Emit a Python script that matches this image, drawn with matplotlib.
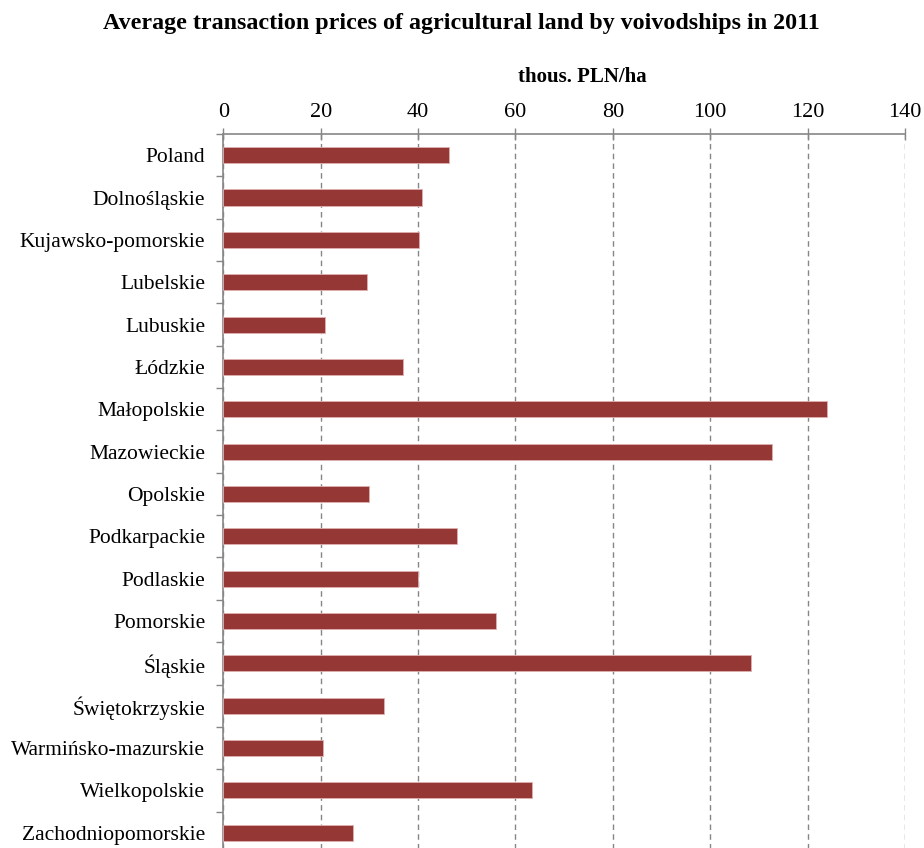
import numpy as np
import matplotlib
matplotlib.use('Agg')
import matplotlib.pyplot as plt

plt.rcParams['font.family'] = ['Liberation Serif', 'DejaVu Serif']

regions = ['Poland', 'Dolnośląskie', 'Kujawsko-pomorskie', 'Lubelskie', 'Lubuskie',
           'Łódzkie', 'Małopolskie', 'Mazowieckie', 'Opolskie', 'Podkarpackie',
           'Podlaskie', 'Pomorskie', 'Śląskie', 'Świętokrzyskie',
           'Warmińsko-mazurskie', 'Wielkopolskie', 'Zachodniopomorskie']
prices = [46.4, 40.8, 40.2, 29.6, 20.8, 36.9, 124.0, 112.7, 29.9, 48.0,
          40.0, 56.1, 108.4, 32.9, 20.5, 63.3, 26.6]
x_ticks = [0, 20, 40, 60, 80, 100, 120, 140]

fig = plt.figure(figsize=(9.24, 8.48), dpi=100)
ax = fig.add_axes([0.2417, -0.007, 0.7377, 0.849])

y = np.arange(len(regions))
ax.barh(y, prices, height=0.38, color='#953735', edgecolor='#e0b0b0', linewidth=0.6, zorder=3)

ax.set_xlim(0, 140)
ax.set_ylim(len(regions) - 0.5, -0.5)
ax.xaxis.tick_top()
ax.set_xticks(x_ticks)
ax.set_xticklabels([str(t) for t in x_ticks], fontsize=16)
ax.tick_params(axis='x', direction='inout', length=9, width=1, color='#868686', pad=4)

# axis unit label sits a bit right of centre, above the tick labels
ax.text(0.526, 1.079, 'thous. PLN/ha', transform=ax.transAxes, ha='center', va='center',
        fontsize=15, fontweight='bold')

ax.set_yticks(y)
ax.set_yticklabels(regions, fontsize=15.5)
ax.tick_params(axis='y', which='major', length=0, pad=13)
ax.set_yticks(np.arange(len(regions) + 1) - 0.5, minor=True)
ax.tick_params(axis='y', which='minor', direction='out', length=5, width=1, color='#868686')

ax.grid(axis='x', linestyle=(0, (4, 3)), color='#868686', linewidth=1, zorder=0)
for s in ['right', 'bottom']:
    ax.spines[s].set_visible(False)
for s in ['top', 'left']:
    ax.spines[s].set_color('#868686')
    ax.spines[s].set_linewidth(1.2)

fig.text(0.4995, 0.972, 'Average transaction prices of agricultural land by voivodships in 2011',
         ha='center', va='center', fontsize=17.3, fontweight='bold')

fig.savefig('out.png', dpi=100)
